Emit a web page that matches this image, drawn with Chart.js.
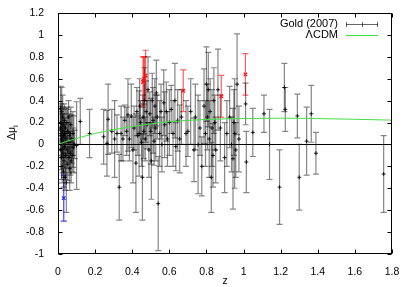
<!DOCTYPE html>
<html>
<head>
<meta charset="utf-8">
<script src="https://cdn.jsdelivr.net/npm/chart.js@4/dist/chart.umd.min.js"></script>
<style>
  body { margin: 0; background: #fff; }
</style>
</head>
<body>
<canvas id="chart" width="409" height="287"></canvas>
<script>
// axis ticks
const xTicks = [0, 0.2, 0.4, 0.6, 0.8, 1, 1.2, 1.4, 1.6, 1.8];
const yTicks = [-1, -0.8, -0.6, -0.4, -0.2, 0, 0.2, 0.4, 0.6, 0.8, 1, 1.2];

// Gold (2007) sample: redshift, distance modulus residual, error
const goldZ = [0.012, 0.014, 0.015, 0.016, 0.018, 0.019, 0.020, 0.021, 0.022, 0.024, 0.025, 0.026, 0.027, 0.028,
  0.030, 0.031, 0.032, 0.034, 0.035, 0.036, 0.038, 0.040, 0.041, 0.043, 0.045, 0.047, 0.049, 0.051, 0.053, 0.055,
  0.057, 0.059, 0.061, 0.063, 0.065, 0.067, 0.069, 0.071, 0.074, 0.077, 0.080, 0.082, 0.090, 0.085, 0.100, 0.120, 0.170,
  0.246, 0.264, 0.270, 0.290, 0.305, 0.318, 0.330, 0.340, 0.350, 0.360, 0.370, 0.377, 0.385, 0.395, 0.404, 0.410,
  0.420, 0.425, 0.430, 0.437, 0.440, 0.445, 0.450, 0.455, 0.458, 0.462, 0.466, 0.470, 0.475, 0.480, 0.485, 0.490,
  0.495, 0.500, 0.503, 0.508, 0.512, 0.518, 0.522, 0.527, 0.530, 0.535, 0.540, 0.548, 0.555, 0.560, 0.570, 0.575,
  0.584, 0.590, 0.600, 0.610, 0.620, 0.630, 0.635, 0.645, 0.656, 0.665, 0.690, 0.700, 0.715, 0.733, 0.740, 0.755,
  0.765, 0.775, 0.787, 0.795, 0.800, 0.805, 0.810, 0.815, 0.820, 0.826, 0.830, 0.835, 0.840, 0.845, 0.850, 0.862,
  0.875, 0.898, 0.910, 0.925, 0.935, 0.943, 0.948, 0.952, 0.958, 0.965, 0.975, 1.011, 1.015, 1.050, 1.110, 1.140,
  1.194, 1.220, 1.225, 1.290, 1.300, 1.340, 1.365, 1.390, 1.755];
const goldMu = [0.15, 0.33, -0.05, 0.2, 0.1, -0.12, 0.3, 0.05, -0.2, 0.12, 0.25, -0.08, 0.02, 0.18, -0.25, 0.08,
  -0.15, 0.22, -0.02, 0.1, -0.3, 0.15, -0.1, 0.05, -0.35, 0.2, -0.05, 0.12, -0.18, 0.02, 0.25, -0.12,
  0.08, -0.22, 0.1, -0.08, 0.18, -0.15, 0.05, -0.1, 0.1, -0.03, 0.0, 0.0, -0.01, 0.21, 0.1,
  0.07, 0.01, 0.23, 0.12, 0.05, 0.1, -0.39, 0.1, 0.05, 0.22, 0.12, 0.27, 0.05, 0.26, -0.05, 0.15,
  -0.17, 0.3, 0.08, 0.1, 0.35, 0.2, 0.02, -0.3, 0.25, 0.12, 0.4, 0.05, 0.3, 0.18, 0.5, -0.05,
  0.28, 0.12, -0.15, 0.4, 0.22, 0.03, 0.35, 0.15, 0.47, 0.25, -0.54, 0.1, 0.3, 0.0, 0.38, 0.18,
  0.3, 0.05, 0.2, 0.32, 0.1, 0.4, -0.02, 0.22, 0.05, 0.25, 0.1, 0.12, 0.3, -0.05, 0.25, 0.0,
  0.15, -0.2, 0.35, 0.1, 0.55, 0.25, 0.5, 0.05, 0.3, -0.3, 0.15, -0.1, 0.4, 0.2, -0.05, 0.5,
  0.15, -0.12, 0.1, 0.25, 0.0, -0.13, 0.2, 0.1, -0.05, 0.55, 0.05, 0.37, -0.16, 0.11, 0.28, 0.0,
  -0.39, 0.52, 0.32, 0.26, -0.3, 0.03, 0.28, -0.08, -0.27];
const goldErr = [0.2, 0.2, 0.18, 0.17, 0.22, 0.2, 0.22, 0.15, 0.15, 0.16, 0.2, 0.18, 0.14, 0.16, 0.14, 0.2,
  0.15, 0.15, 0.2, 0.14, 0.12, 0.18, 0.22, 0.15, 0.27, 0.14, 0.16, 0.2, 0.15, 0.18, 0.15, 0.14,
  0.2, 0.2, 0.16, 0.2, 0.16, 0.2, 0.22, 0.15, 0.2, 0.18, 0.13, 0.26, 0.4, 0.21, 0.22,
  0.25, 0.3, 0.32, 0.2, 0.35, 0.17, 0.3, 0.25, 0.2, 0.14, 0.22, 0.33, 0.2, 0.29, 0.3, 0.2,
  0.45, 0.22, 0.18, 0.39, 0.25, 0.2, 0.22, 0.39, 0.2, 0.25, 0.3, 0.2, 0.28, 0.22, 0.3, 0.25,
  0.2, 0.3, 0.35, 0.25, 0.3, 0.22, 0.25, 0.3, 0.3, 0.2, 0.43, 0.3, 0.25, 0.25, 0.3, 0.3,
  0.27, 0.25, 0.3, 0.22, 0.3, 0.34, 0.22, 0.28, 0.31, 0.25, 0.3, 0.23, 0.3, 0.29, 0.3, 0.45,
  0.25, 0.27, 0.34, 0.3, 0.34, 0.3, 0.34, 0.35, 0.3, 0.32, 0.35, 0.29, 0.3, 0.25, 0.3, 0.37,
  0.3, 0.32, 0.3, 0.28, 0.25, 0.46, 0.3, 0.5, 0.25, 0.46, 0.3, 0.19, 0.28, 0.22, 0.17, 0.32,
  0.34, 0.22, 0.2, 0.2, 0.3, 0.31, 0.26, 0.19, 0.35];

// outliers above (red) and below (blue)
const redZ = [0.458, 0.462, 0.466, 0.472, 0.675, 0.880, 1.010];
const redMu = [0.57, 0.58, 0.6, 0.63, 0.49, 0.44, 0.64];
const redErr = [0.23, 0.22, 0.2, 0.23, 0.19, 0.19, 0.19];
const blueZ = [0.031];
const blueMu = [-0.49];
const blueErr = [0.21];

// LCDM curve
const lcdmZ = [0, 0.05, 0.1, 0.2, 0.3, 0.4, 0.5, 0.6, 0.8, 1.0, 1.2, 1.4, 1.6, 1.8];
const lcdmMu = [0, 0.03, 0.055, 0.1, 0.135, 0.163, 0.188, 0.208, 0.228, 0.237, 0.24, 0.236, 0.23, 0.222];

const FONT = '"Liberation Sans", Arial, sans-serif';
Chart.defaults.font.family = FONT;
Chart.defaults.font.size = 10.5;
Chart.defaults.color = '#000';

const toPts = (xs, ys) => xs.map((v, i) => ({x: v, y: ys[i]}));

// error bars, zero line
const errorBars = {
  id: 'errorBars',
  beforeDatasetsDraw(chart) {
    const {ctx, chartArea: a, scales: {x, y}} = chart;
    ctx.save();
    ctx.beginPath();
    ctx.rect(a.left, a.top, a.right - a.left, a.bottom - a.top);
    ctx.clip();
    const y0 = Math.round(y.getPixelForValue(0)) + 0.5;
    ctx.strokeStyle = '#000';
    ctx.lineWidth = 1;
    ctx.beginPath();
    ctx.moveTo(a.left, y0);
    ctx.lineTo(a.right, y0);
    ctx.stroke();
    chart.data.datasets.forEach(ds => {
      if (!ds.errors) return;
      ctx.strokeStyle = ds.barColor;
      ctx.lineWidth = 1.2;
      ds.data.forEach((p, i) => {
        const px = x.getPixelForValue(p.x);
        const top = y.getPixelForValue(p.y + ds.errors[i]);
        const bot = y.getPixelForValue(p.y - ds.errors[i]);
        ctx.beginPath();
        ctx.moveTo(px, top); ctx.lineTo(px, bot);
        ctx.moveTo(px - 3, top); ctx.lineTo(px + 3, top);
        ctx.moveTo(px - 3, bot); ctx.lineTo(px + 3, bot);
        ctx.stroke();
      });
    });
    ctx.restore();
  }
};

// gnuplot style frame, inward ticks, legend and y label
const frame = {
  id: 'frame',
  afterDraw(chart) {
    const {ctx, chartArea: a, scales: {x, y}} = chart;
    const L = Math.round(a.left) + 0.5, R = Math.round(a.right) - 0.5;
    const T = Math.round(a.top) + 0.5, B = Math.round(a.bottom) - 0.5;
    ctx.save();
    ctx.strokeStyle = '#000';
    ctx.lineWidth = 1;
    ctx.strokeRect(L, T, R - L, B - T);
    ctx.beginPath();
    xTicks.forEach(v => {
      const px = Math.round(x.getPixelForValue(v)) + 0.5;
      ctx.moveTo(px, B); ctx.lineTo(px, B - 4);
      ctx.moveTo(px, T); ctx.lineTo(px, T + 4);
    });
    yTicks.forEach(v => {
      const py = Math.round(y.getPixelForValue(v)) + 0.5;
      ctx.moveTo(L, py); ctx.lineTo(L + 4, py);
      ctx.moveTo(R, py); ctx.lineTo(R - 4, py);
    });
    ctx.stroke();

    // legend
    ctx.font = '11px ' + FONT;
    ctx.fillStyle = '#000';
    ctx.textAlign = 'right';
    ctx.textBaseline = 'middle';
    ctx.fillText('Gold (2007)', 338, 24);
    ctx.fillText('\u039BCDM', 338, 35);
    ctx.strokeStyle = 'rgba(0,0,0,0.6)';
    ctx.beginPath();
    ctx.moveTo(346, 24.5); ctx.lineTo(378, 24.5);
    ctx.moveTo(346.5, 22); ctx.lineTo(346.5, 27);
    ctx.moveTo(377.5, 22); ctx.lineTo(377.5, 27);
    ctx.moveTo(362.5, 22); ctx.lineTo(362.5, 27);
    ctx.stroke();
    ctx.strokeStyle = '#44dd44';
    ctx.beginPath();
    ctx.moveTo(346, 35.5); ctx.lineTo(378, 35.5);
    ctx.stroke();

    // y axis label with subscript
    ctx.font = '10.5px ' + FONT;
    ctx.translate(15, 132);
    ctx.rotate(-Math.PI / 2);
    ctx.textAlign = 'left';
    ctx.textBaseline = 'alphabetic';
    const w = ctx.measureText('\u0394\u03BC').width;
    ctx.fillText('\u0394\u03BC', -(w + 3) / 2, 0);
    ctx.font = '7.5px ' + FONT;
    ctx.fillText('i', -(w + 3) / 2 + w, 2.5);
    ctx.restore();
  }
};

new Chart(document.getElementById('chart'), {
  type: 'scatter',
  data: {
    datasets: [
      {
        type: 'line',
        data: toPts(lcdmZ, lcdmMu),
        borderColor: '#44dd44',
        borderWidth: 1,
        pointRadius: 0,
        cubicInterpolationMode: 'monotone',
        fill: false
      },
      {
        data: toPts(blueZ, blueMu),
        errors: blueErr,
        barColor: 'rgba(30,30,255,0.85)',
        pointStyle: 'crossRot',
        pointRadius: 2.5,
        borderColor: '#2222ff',
        borderWidth: 1.2
      },
      {
        data: toPts(redZ, redMu),
        errors: redErr,
        barColor: 'rgba(255,30,30,0.7)',
        pointStyle: 'crossRot',
        pointRadius: 2.5,
        borderColor: '#ff1111',
        borderWidth: 1.2
      },
      {
        data: toPts(goldZ, goldMu),
        errors: goldErr,
        barColor: 'rgba(0,0,0,0.48)',
        pointStyle: 'cross',
        pointRadius: 2,
        borderColor: 'rgba(0,0,0,0.85)',
        borderWidth: 1
      }
    ]
  },
  options: {
    responsive: false,
    animation: false,
    layout: { padding: { left: 0, right: 17, top: 13, bottom: 0 } },
    plugins: { legend: { display: false }, tooltip: { enabled: false } },
    scales: {
      x: {
        type: 'linear',
        min: 0, max: 1.8,
        afterBuildTicks: s => { s.ticks = xTicks.map(v => ({value: v})); },
        afterFit: s => { s.height = 33; },
        grid: { display: false },
        border: { display: false },
        ticks: { padding: 4, maxRotation: 0, callback: v => String(v) },
        title: { display: true, text: 'z', padding: { top: 0, bottom: 0 } }
      },
      y: {
        min: -1, max: 1.2,
        afterBuildTicks: s => { s.ticks = yTicks.map(v => ({value: v})); },
        afterFit: s => { s.width = 58; },
        grid: { display: false },
        border: { display: false },
        ticks: { padding: 6, callback: v => String(v) }
      }
    }
  },
  plugins: [errorBars, frame]
});
</script>
</body>
</html>
